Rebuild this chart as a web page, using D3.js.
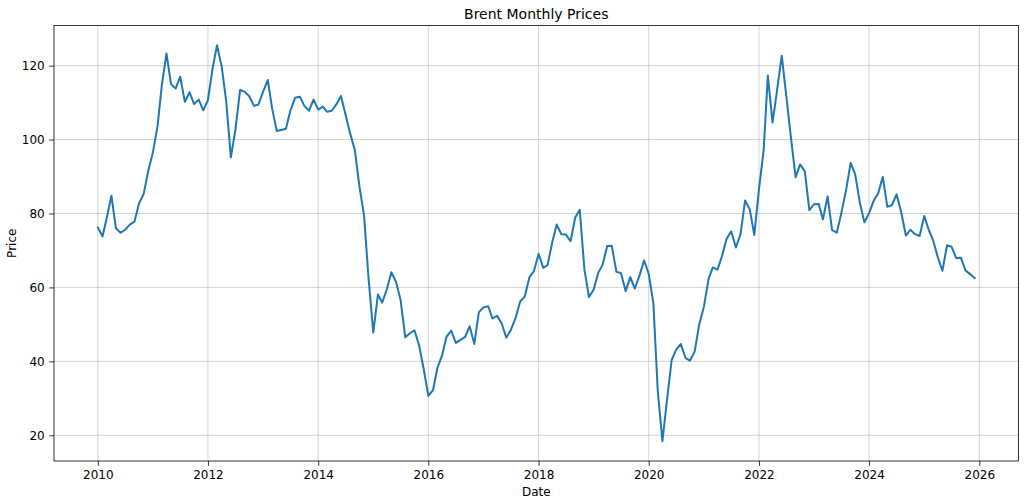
<!DOCTYPE html>
<html>
<head>
<meta charset="utf-8">
<script src="https://cdn.jsdelivr.net/npm/d3@7"></script>
<style>
  body { margin: 0; background: #fff; }
  svg { font-family: "DejaVu Sans", sans-serif; }
</style>
</head>
<body>
<svg id="chart" width="1025" height="503"></svg>
<script>
// monthly Brent averages, Jan 2010 .. Dec 2025
const startYear = 2010
const prices = [
  76.2, 73.8, 78.8, 84.8, 76.0, 74.8, 75.6, 77.0, 77.8, 82.7, 85.3, 91.5,
  96.5, 103.7, 114.6, 123.3, 115.0, 113.8, 117.0, 110.2, 112.8, 109.6, 110.8, 107.9,
  110.7, 119.3, 125.5, 119.8, 110.3, 95.2, 102.6, 113.4, 112.9, 111.7, 109.1, 109.5,
  113.0, 116.1, 108.5, 102.3, 102.6, 102.9, 107.9, 111.3, 111.6, 109.1, 107.8, 110.8,
  108.1, 108.9, 107.5, 107.8, 109.5, 111.8, 106.8, 101.6, 97.1, 87.4, 79.4, 62.3,
  47.8, 58.1, 55.9, 59.5, 64.1, 61.5, 56.6, 46.5, 47.6, 48.4, 44.3, 38.0,
  30.7, 32.2, 38.2, 41.6, 46.7, 48.3, 45.0, 45.8, 46.6, 49.5, 44.7, 53.3,
  54.6, 54.9, 51.6, 52.3, 50.3, 46.4, 48.5, 51.7, 56.2, 57.5, 62.7, 64.4,
  69.1, 65.3, 66.0, 72.1, 77.0, 74.4, 74.3, 72.5, 78.9, 81.0, 64.8, 57.4,
  59.4, 64.0, 66.1, 71.2, 71.3, 64.2, 63.9, 59.0, 62.8, 59.7, 63.2, 67.3,
  63.7, 55.7, 32.0, 18.4, 29.4, 40.3, 43.2, 44.7, 40.9, 40.2, 42.7, 50.0,
  54.8, 62.3, 65.4, 64.8, 68.5, 73.2, 75.2, 70.8, 74.5, 83.5, 81.1, 74.2,
  86.5, 97.1, 117.3, 104.6, 113.3, 122.7, 111.9, 100.5, 89.8, 93.3, 91.4, 80.9,
  82.5, 82.6, 78.4, 84.6, 75.5, 74.8, 80.1, 86.2, 93.7, 90.6, 82.9, 77.6,
  80.1, 83.5, 85.4, 89.9, 81.8, 82.3, 85.2, 80.4, 74.0, 75.6, 74.4, 73.9,
  79.3, 75.4, 72.7, 68.1, 64.5, 71.4, 71.0, 67.9, 68.0, 64.6, 63.6, 62.5
]
const yearTicks = [2010, 2012, 2014, 2016, 2018, 2020, 2022, 2024, 2026]
const priceTicks = [20, 40, 60, 80, 100, 120]

const dates = prices.map((p, i) => new Date(startYear + Math.floor(i / 12), i % 12, 1))
const data = prices.map((p, i) => ({ date: dates[i], price: p }))

const svg = d3.select("#chart")
const margin = { left: 54, right: 6.5, top: 25.5, bottom: 42 }
const W = 1025, H = 503
const x0 = margin.left, x1 = W - margin.right
const y0 = H - margin.bottom, y1 = margin.top

// matplotlib style 5% padding
const dmin = dates[0], dmax = dates[dates.length - 1]
const pad = (dmax - dmin) * 0.05
const ymin = d3.min(prices), ymax = d3.max(prices)
const ypad = (ymax - ymin) * 0.05

const x = d3.scaleTime()
  .domain([new Date(+dmin - pad), new Date(+dmax + pad)])
  .range([x0, x1])
const y = d3.scaleLinear()
  .domain([ymin - ypad, ymax + ypad])
  .range([y0, y1])

const tickDates = yearTicks.map(t => new Date(t, 0, 1))

// grid
const grid = svg.append("g")
grid.selectAll("line.gx")
  .data(tickDates)
  .join("line")
    .attr("x1", d => x(d)).attr("x2", d => x(d))
    .attr("y1", y0).attr("y2", y1)
    .attr("stroke", "#b0b0b0").attr("stroke-width", 0.8).attr("stroke-opacity", 0.7)
grid.selectAll("line.gy")
  .data(priceTicks)
  .join("line")
    .attr("x1", x0).attr("x2", x1)
    .attr("y1", d => y(d)).attr("y2", d => y(d))
    .attr("stroke", "#b0b0b0").attr("stroke-width", 0.8).attr("stroke-opacity", 0.7)

// line
const line = d3.line().x(d => x(d.date)).y(d => y(d.price))
svg.append("path")
  .datum(data)
  .attr("fill", "none")
  .attr("stroke", "#1f77b4")
  .attr("stroke-width", 2)
  .attr("stroke-linejoin", "round")
  .attr("stroke-linecap", "square")
  .attr("d", line)

// axes
const xAxis = svg.append("g")
  .attr("transform", `translate(0,${y0})`)
  .call(d3.axisBottom(x).tickValues(tickDates).tickFormat(d3.timeFormat("%Y")).tickSize(4.8).tickPadding(4.5))
const yAxis = svg.append("g")
  .attr("transform", `translate(${x0},0)`)
  .call(d3.axisLeft(y).tickValues(priceTicks).tickSize(4.8).tickPadding(4.5))

for (const ax of [xAxis, yAxis]) {
  ax.select(".domain").remove()
  ax.selectAll("line").attr("stroke", "#000").attr("stroke-width", 0.8)
  ax.selectAll("text")
    .attr("fill", "#000")
    .style("font-size", "12px")
    .style("font-family", "DejaVu Sans")
}

// frame
svg.append("rect")
  .attr("x", x0).attr("y", y1)
  .attr("width", x1 - x0).attr("height", y0 - y1)
  .attr("fill", "none").attr("stroke", "#000").attr("stroke-width", 0.8)

// labels
svg.append("text")
  .attr("x", (x0 + x1) / 2).attr("y", 19)
  .attr("text-anchor", "middle")
  .style("font-size", "14px")
  .text("Brent Monthly Prices")
svg.append("text")
  .attr("x", (x0 + x1) / 2).attr("y", 496)
  .attr("text-anchor", "middle")
  .style("font-size", "12px")
  .text("Date")
svg.append("text")
  .attr("transform", `translate(16,${(y0 + y1) / 2}) rotate(-90)`)
  .attr("text-anchor", "middle")
  .style("font-size", "12px")
  .text("Price")
</script>
</body>
</html>
